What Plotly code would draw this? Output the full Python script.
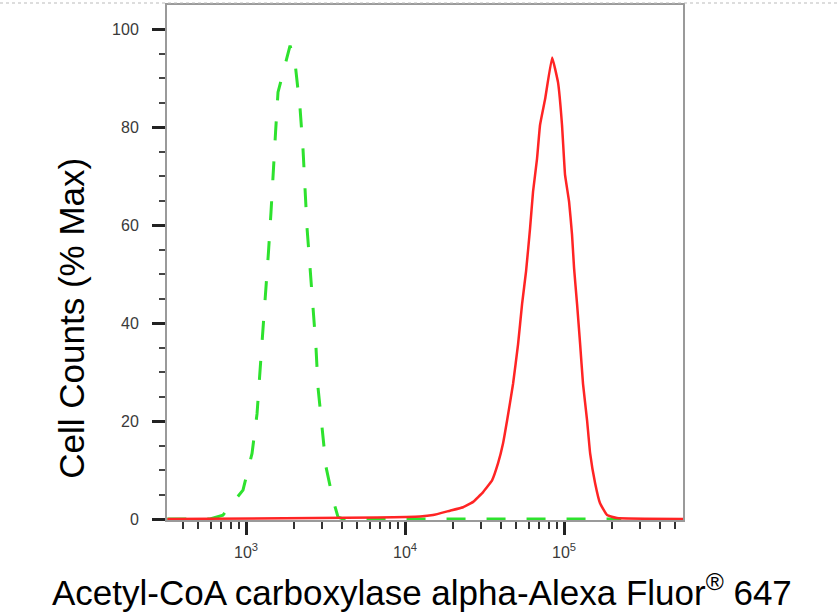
import plotly.graph_objects as go

# Green (dashed) histogram: intensity values and % Max
green_x = [320, 594, 716, 957, 1091, 1173, 1225, 1279, 1336, 1385, 1436, 1479, 1534, 1589, 1892,
           2032, 2188, 2282, 2349, 2420, 2528, 2639, 2754, 2837, 3007, 3186, 3525, 3791, 4074, 229000]
green_y = [0, 0, 0.8, 5.9, 13.4, 21.5, 30.3, 38.4, 46.5, 54.6, 62.7, 70.9, 79.0, 87.1, 96.6,
           93.2, 83.7, 75.5, 67.4, 59.3, 51.2, 43.0, 35.0, 26.8, 18.7, 10.6, 3.9, 0.4, 0, 0]

# Red (solid) histogram
red_x = [320, 6670, 12420, 15000, 19190, 23170, 26790, 30970, 35260, 38460, 41320, 43830,
         47790, 51390, 54460, 57700, 61110, 63830, 67600, 70630, 76000, 84140, 91640, 97090,
         101400, 107500, 112200, 115600, 120700, 126200, 131600, 139600, 145900, 156800,
         168400, 186300, 215100, 560000]
red_y = [0, 0.3, 0.5, 0.8, 1.7, 2.4, 3.5, 5.5, 7.9, 11.4, 15.4, 20.1,
         27.6, 35.7, 43.9, 50.6, 59.3, 66.8, 73.5, 80.4, 85.7, 94.2, 89.1, 80.4,
         70.3, 64.8, 58.1, 51.2, 43.9, 35.7, 27.6, 20.1, 13.4, 7.3,
         3.2, 0.8, 0.2, 0]

x_major = [1e3, 1e4, 1e5]
x_major_text = ["10<sup>3</sup>", "10<sup>4</sup>", "10<sup>5</sup>"]
x_minor = [400, 500, 600, 700, 800, 900,
           2000, 3000, 4000, 5000, 6000, 7000, 8000, 9000,
           20000, 30000, 40000, 50000, 60000, 70000, 80000, 90000,
           200000, 300000, 400000, 500000]
y_major = [0, 20, 40, 60, 80, 100]

x_title = "Acetyl-CoA carboxylase alpha-Alexa Fluor<sup>®</sup> 647"
y_title = "Cell Counts (% Max)"

FONT = "Liberation Sans, Arial, sans-serif"

fig = go.Figure()
fig.add_trace(go.Scatter(x=green_x, y=green_y, mode="lines",
                         line=dict(color="#2ee22e", width=3, dash="19px,21px"),
                         showlegend=False, hoverinfo="skip"))
fig.add_trace(go.Scatter(x=red_x, y=red_y, mode="lines",
                         line=dict(color="#ff2424", width=2.5, shape="spline", smoothing=0.3),
                         showlegend=False, hoverinfo="skip"))

fig.update_layout(
    width=837, height=614,
    margin=dict(l=167, r=154, t=3, b=94),
    paper_bgcolor="white", plot_bgcolor="white",
    font=dict(family=FONT),
)
fig.update_xaxes(
    type="log", range=[2.503, 5.748],
    tickmode="array", tickvals=x_major, ticktext=x_major_text,
    ticks="outside", ticklen=13, tickwidth=3, tickcolor="#222",
    tickfont=dict(family=FONT, size=16, color="#3a3a3a"),
    ticklabelstandoff=4,
    showline=True, linecolor="#9a9a9a", linewidth=2, mirror=True,
    showgrid=False, zeroline=False,
    minor=dict(tickmode="array", tickvals=x_minor, ticks="outside",
               ticklen=7, tickwidth=2, tickcolor="#333", showgrid=False),
)
fig.update_yaxes(
    range=[-0.2, 104.9],
    tickmode="array", tickvals=y_major,
    ticks="outside", ticklen=13, tickwidth=3, tickcolor="#222",
    tickfont=dict(family=FONT, size=16, color="#3a3a3a"),
    ticklabelstandoff=10,
    showline=True, linecolor="#9a9a9a", linewidth=2, mirror=True,
    showgrid=False, zeroline=False,
    minor=dict(dtick=5, ticks="outside", ticklen=6, tickwidth=2,
               tickcolor="#444", showgrid=False),
)

fig.add_annotation(text=x_title, xref="paper", yref="paper",
                   x=0.494, y=-0.135, xanchor="center", yanchor="middle",
                   showarrow=False, font=dict(family=FONT, size=35, color="black"))
fig.add_annotation(text=y_title, xref="paper", yref="paper",
                   x=-0.184, y=0.391, xanchor="center", yanchor="middle",
                   textangle=-90, showarrow=False,
                   font=dict(family=FONT, size=35, color="black"))

# dotted border along the top edge of the picture
fig.add_shape(type="line", xref="paper", yref="paper",
              x0=-167/516, x1=670/516, y0=1 + 2/517, y1=1 + 2/517,
              line=dict(color="#bbbbbb", width=1, dash="dot"))

fig.write_html(
    "out.html",
    config={"displayModeBar": False},
    post_script="document.body.style.margin='0';document.body.style.overflow='hidden';",
)
